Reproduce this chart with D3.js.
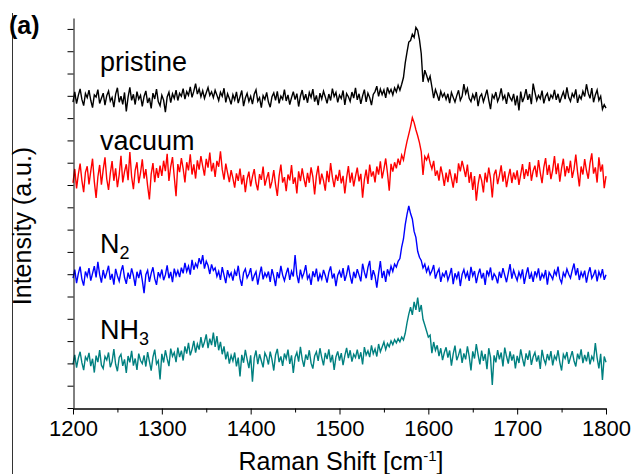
<!DOCTYPE html>
<html>
<head>
<meta charset="utf-8">
<script src="https://cdn.jsdelivr.net/npm/d3@7"></script>
<style>
  body { margin: 0; background: #fff; }
  svg { display: block; }
  text { font-family: "Liberation Sans", Arial, Helvetica, sans-serif; fill: #000; }
</style>
</head>
<body>
<svg id="chart" width="631" height="474"></svg>
<script>
// Raman shift grid (cm^-1): 1200 to 1800 in steps of 2
const shift = d3.range(1200, 1801, 2);

// Offset spectra, intensity in arbitrary counts (one y tick = 100)
const pristine = [
  1372,1418,1365,1402,1431,1384,1356,1410,1392,1425,
  1380,1347,1404,1395,1428,1366,1389,1412,1358,1401,
  1421,1377,1393,1349,1408,1436,1371,1398,1362,1415,
  1330,1394,1438,1380,1407,1361,1419,1385,1402,1353,
  1397,1422,1368,1391,1344,1412,1386,1430,1374,1355,
  1403,1381,1327,1395,1416,1370,1409,1388,1426,1379,
  1411,1398,1432,1385,1419,1402,1440,1393,1421,1455,
  1408,1431,1396,1423,1389,1414,1437,1402,1418,1392,
  1425,1403,1379,1416,1398,1434,1371,1409,1388,1362,
  1405,1382,1418,1367,1396,1424,1354,1390,1411,1375,
  1398,1363,1407,1427,1376,1392,1347,1401,1384,1415,
  1372,1349,1396,1413,1380,1420,1366,1399,1385,1428,
  1377,1404,1361,1392,1419,1383,1410,1352,1398,1426,
  1381,1407,1369,1415,1393,1430,1374,1402,1358,1412,
  1386,1421,1395,1366,1408,1379,1432,1397,1415,1371,
  1403,1388,1424,1359,1410,1396,1375,1417,1390,1436,
  1382,1409,1364,1400,1428,1373,1412,1392,1358,1406,
  1419,1443,1398,1430,1405,1426,1391,1438,1412,1429,
  1404,1436,1418,1447,1425,1452,1482,1548,1596,1641,
  1648,1676,1662,1707,1694,1652,1590,1462,1515,1492,
  1466,1488,1440,1390,1428,1405,1378,1420,1396,1411,
  1384,1409,1367,1415,1393,1372,1401,1425,1380,1398,
  1452,1410,1433,1389,1374,1406,1385,1417,1354,1396,
  1408,1373,1399,1428,1381,1340,1404,1389,1417,1375,
  1396,1433,1385,1402,1364,1415,1392,1378,1409,1357,
  1401,1335,1419,1372,1395,1430,1382,1408,1363,1455,
  1415,1379,1402,1387,1423,1366,1398,1411,1376,1404,
  1390,1427,1382,1409,1370,1396,1418,1385,1438,1393,
  1375,1410,1394,1429,1368,1401,1386,1420,1397,1452,
  1412,1389,1435,1371,1404,1426,1380,1398,1340,1360,
  1345
];

const vacuum = [
  1010,1072,985,1048,1096,1021,968,1057,1084,1003,
  1062,1118,1015,942,1036,1090,1001,1069,1124,1027,
  978,1052,1107,1019,1075,990,1046,1131,1012,1060,
  1093,1022,1148,1037,981,1066,1102,1008,1054,1115,
  1029,1071,996,935,1049,1098,1013,1076,1032,1087,
  1041,1109,1062,1140,1018,1083,1125,1036,950,1094,
  1058,1121,1074,1012,1102,1066,1138,1047,1093,1029,
  1111,1069,1130,1085,1042,1117,1078,1145,1061,1099,
  1036,1108,1082,1151,1070,1024,1096,1054,1013,1067,
  1031,988,1052,1019,1074,1003,1045,968,1027,1060,
  994,1038,1071,1009,976,1049,1023,1083,997,1030,
  1058,985,1016,1067,1002,951,1040,1092,1011,1035,
  972,1047,1021,1089,1005,1034,962,1061,1017,1075,
  1028,991,1055,1010,1079,1037,958,1042,1086,1003,
  1051,1020,975,1064,1013,1098,1035,990,1046,1019,
  1068,1007,1041,962,1032,1085,1011,1056,994,1039,
  1078,1016,1050,943,1024,1069,1005,1092,1038,1061,
  1012,1083,1047,1106,1030,1071,1119,1054,975,1095,
  1060,1102,1075,1118,1090,1134,1112,1158,1196,1228,
  1262,1302,1280,1248,1221,1190,1150,1045,1128,1112,
  1135,1098,1072,1108,1041,1065,1020,1083,1047,996,
  1056,1013,1070,1031,988,1052,1009,1097,1061,1108,
  1074,1036,1092,1010,1058,978,1040,930,1003,1049,
  1021,967,1055,1012,1078,1030,944,1046,1069,1004,
  1043,1088,1015,1061,990,1037,1072,1009,1056,1024,
  1066,1001,1048,1094,1027,1071,1040,1103,1019,1063,
  1087,1035,1112,1056,1008,1079,1121,1045,1090,1026,
  1068,1130,1049,1097,1015,1076,1118,1039,1085,1054,
  1109,1032,1071,1136,1058,994,1083,1047,1116,1065,
  1028,1098,1142,1051,1079,1011,1124,1060,1092,986,
  1040
];

const nitrogen = [
  582,621,560,603,634,578,549,612,590,627,
  571,604,636,586,655,598,562,619,581,608,
  638,575,601,553,624,592,569,613,640,585,
  557,607,579,626,594,548,611,583,620,572,
  515,598,617,566,604,631,580,552,609,588,
  621,573,597,640,582,610,564,625,593,616,
  587,629,604,651,612,636,598,664,620,648,
  631,672,645,686,625,658,639,601,644,617,
  628,590,613,575,632,596,560,618,589,606,
  571,615,592,638,580,548,607,624,584,601,
  627,569,594,611,553,598,634,577,605,588,
  612,566,623,590,547,609,582,637,596,571,
  603,629,575,614,590,686,598,560,621,584,
  606,641,579,596,552,613,587,625,568,601,
  578,619,594,562,608,635,581,603,547,596,
  614,585,627,570,599,640,592,558,611,583,
  623,596,568,647,609,582,631,660,574,618,
  592,540,604,659,583,615,566,622,598,636,
  612,645,632,658,670,722,758,822,868,906,
  872,848,792,765,703,676,662,628,645,611,
  632,598,615,641,580,607,624,566,603,590,
  617,573,596,628,555,604,581,612,547,599,
  621,586,609,570,633,592,614,560,598,625,
  581,606,552,617,594,630,573,602,588,559,
  611,583,627,596,564,605,645,580,618,593,
  572,609,586,622,557,598,631,579,604,566,
  613,590,626,571,602,585,619,553,608,594,
  577,615,596,634,580,561,607,589,623,600,
  583,618,648,595,627,574,609,588,616,562,
  604,631,582,597,620,568,611,589,623,575,
  598
];

const ammonia = [
  196,238,181,224,252,203,170,229,214,247,
  188,221,159,235,206,260,192,177,231,215,
  249,183,208,264,196,165,227,241,189,218,
  157,233,205,256,190,222,171,244,213,199,
  236,186,251,209,168,228,262,197,212,128,
  243,204,259,221,188,266,232,249,206,271,
  228,257,213,276,244,292,236,263,301,248,
  287,262,318,271,296,330,268,311,282,338,
  274,322,259,297,241,276,218,253,199,236,
  211,249,187,226,142,238,203,261,218,179,
  236,118,224,258,197,241,212,182,247,229,
  195,253,217,168,238,265,206,231,189,244,
  221,262,198,236,157,227,249,208,274,219,
  185,240,216,259,201,177,233,252,211,268,
  226,191,247,219,263,205,238,171,229,254,
  213,246,192,235,270,224,259,208,241,226,
  262,219,250,195,273,238,256,228,281,243,
  265,231,287,252,274,296,262,289,275,301,
  284,306,292,311,297,318,305,335,382,421,
  452,418,476,440,495,431,462,398,372,345,
  318,327,246,296,258,281,233,268,215,249,
  272,226,258,190,243,280,214,237,266,202,
  245,218,276,231,169,254,222,287,239,196,
  257,211,242,174,268,227,103,236,205,260,
  218,249,186,271,232,199,254,213,240,178,
  234,202,263,221,187,245,216,258,193,230,
  249,208,236,175,261,220,197,242,214,255,
  191,233,217,259,205,168,240,222,251,198,
  227,255,212,186,244,219,263,201,238,209,
  252,196,231,214,291,225,178,243,126,231,
  205
];

const seriesNames = ["pristine", "vacuum", "N2", "NH3"];
const seriesColors = ["#000000", "#ff0000", "#0000ff", "#008080"];
const seriesValues = [pristine, vacuum, nitrogen, ammonia];

const xMajorTicks = [1200, 1300, 1400, 1500, 1600, 1700, 1800];
const xMinorTicks = [1250, 1350, 1450, 1550, 1650, 1750];
const yTicks = d3.range(0, 1701, 100);

const svg = d3.select("#chart");
svg.append("rect").attr("width", 631).attr("height", 474).attr("fill", "#fff");

const plot = { left: 73, right: 606, top: 18, bottom: 408 };

const x = d3.scaleLinear().domain([1200, 1800]).range([plot.left, plot.right]);
const y = d3.scaleLinear().domain([0, 1749]).range([plot.bottom, plot.top]);

// panel frame line at far left
svg.append("line")
  .attr("x1", 12.5).attr("x2", 12.5).attr("y1", 13).attr("y2", 474)
  .attr("stroke", "#333").attr("stroke-width", 1);

// spectra
const line = d3.line().x((d, i) => x(shift[i])).y(d => y(d));
seriesValues.forEach((vals, k) => {
  svg.append("path")
    .datum(vals)
    .attr("d", line)
    .attr("fill", "none")
    .attr("stroke", seriesColors[k])
    .attr("stroke-width", 1.4)
    .attr("stroke-linejoin", "miter");
});

// y axis (no labels)
svg.append("g")
  .attr("transform", `translate(${plot.left + 0.5},0)`)
  .call(d3.axisLeft(y).tickValues(yTicks).tickSize(6).tickSizeOuter(0).tickFormat(""));

// x axis, minor ticks then major ticks with labels
svg.append("g")
  .attr("transform", `translate(0,${plot.bottom + 0.5})`)
  .call(d3.axisBottom(x).tickValues(xMinorTicks).tickSize(4).tickSizeOuter(0).tickFormat(""));
const xAxis = svg.append("g")
  .attr("transform", `translate(0,${plot.bottom + 0.5})`)
  .call(d3.axisBottom(x).tickValues(xMajorTicks).tickSize(6).tickSizeOuter(0).tickPadding(6).tickFormat(d3.format("d")));
xAxis.selectAll("text")
  .style("font-size", "22px")
  .style("font-family", '"Liberation Sans", Arial, sans-serif')
  .attr("fill", "#000");

svg.selectAll(".domain, .tick line").attr("stroke", "#000").attr("stroke-width", 1);

// series labels, trailing digits drawn as subscripts
const labelPos = [[100, 71], [100, 150], [100, 253], [100, 339]];
seriesNames.forEach((name, k) => {
  const m = name.match(/^(.*?)(\d*)$/);
  const t = svg.append("text")
    .attr("x", labelPos[k][0]).attr("y", labelPos[k][1])
    .style("font-size", "27px");
  t.append("tspan").text(m[1]);
  if (m[2]) {
    t.append("tspan").attr("dy", 6).style("font-size", "18px").text(m[2]);
  }
});

// axis titles
const xt = svg.append("text")
  .attr("x", 341).attr("y", 470)
  .attr("text-anchor", "middle")
  .style("font-size", "25px");
xt.append("tspan").text("Raman Shift [cm");
xt.append("tspan").attr("dy", -9).style("font-size", "15px").text("-1");
xt.append("tspan").attr("dy", 9).text("]");

svg.append("text")
  .attr("transform", "translate(31,226) rotate(-90)")
  .attr("text-anchor", "middle")
  .style("font-size", "25px")
  .text("Intensity (a.u.)");

// panel tag
svg.append("text")
  .attr("x", 9).attr("y", 34)
  .style("font-size", "25px")
  .style("font-weight", "bold")
  .text("(a)");
</script>
</body>
</html>
